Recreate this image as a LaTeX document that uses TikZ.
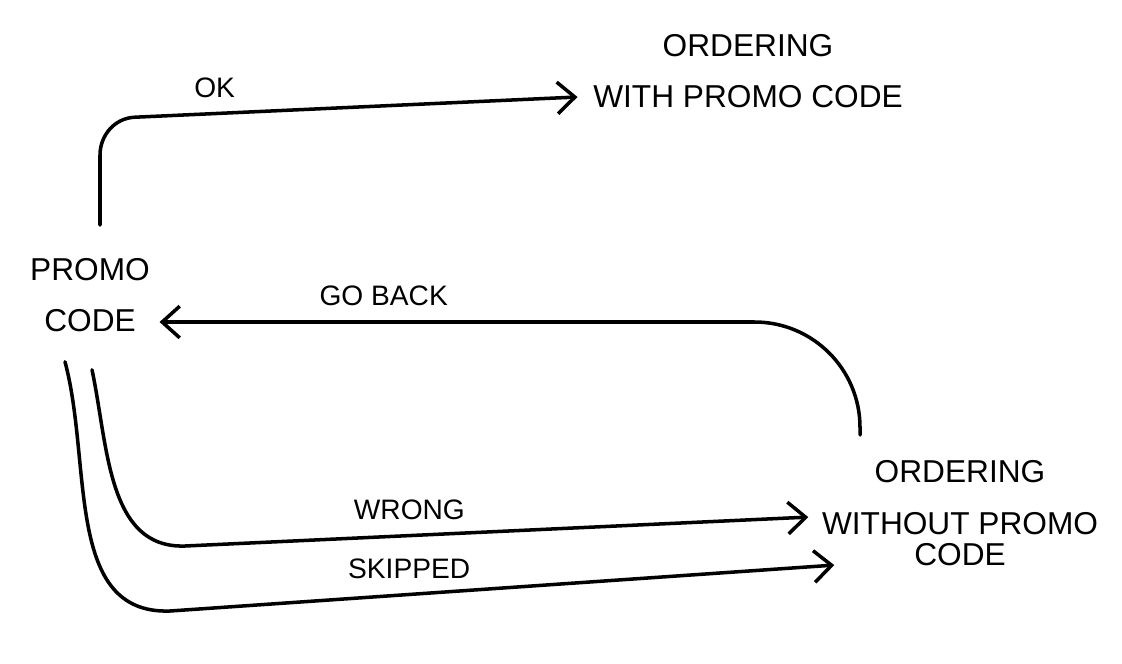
\documentclass[tikz,border=0pt]{standalone}
\usepackage{fontspec}
\setmainfont{Liberation Sans}
\usetikzlibrary{arrows.meta}

\begin{document}
\begin{tikzpicture}[x=0.01cm,y=0.01cm,
        state/.style={align=center,inner sep=2pt,font=\fontsize{9}{14.7}\selectfont},
        flow/.style={line width=1pt,line cap=round,-{Straight Barb[length=5pt,width=9pt,line width=1pt]}},
        tag/.style={above,font=\fontsize{8}{10}\selectfont,inner sep=4pt}]

        \useasboundingbox (0,0) rectangle (1122,663);

        \node[state] (promo)     at (90,368)  {PROMO\\CODE};
        \node[state] (withpromo) at (748,592) {ORDERING\\WITH PROMO CODE};
        \node[state,anchor=north] (without) at (960,210)
            {ORDERING\\WITHOUT PROMO\\[-6pt]CODE};

        % ok
        \draw[flow] ([shift={(10,25)}]promo.north) -- ++(0,70)
            to[out=90,in=182] ++(35,38)
            -- node[tag,pos=0.18] (ok) {OK} ([shift={(-8,-26)}]withpromo.west);
        % go back
        \draw[flow,rounded corners=30] ([shift={(-100,18)}]without.north)
            |- node[tag,pos=0.84] (back) {GO BACK} ([shift={(2,-27)}]promo.east);
        % wrong
        \draw[flow] ([shift={(2,-30)}]promo.south) to[out=-78,in=182] (185,117)
            -- node[tag,pos=0.36] (wrong) {WRONG} ([shift={(-6,-4)}]without.west);
        % skipped
        \draw[flow] ([shift={(-25,-22)}]promo.south) to[out=-75,in=182] (170,52)
            -- node[tag,pos=0.36] (skipped) {SKIPPED} ([shift={(20,-52)}]without.west);
    \end{tikzpicture}
\end{document}
